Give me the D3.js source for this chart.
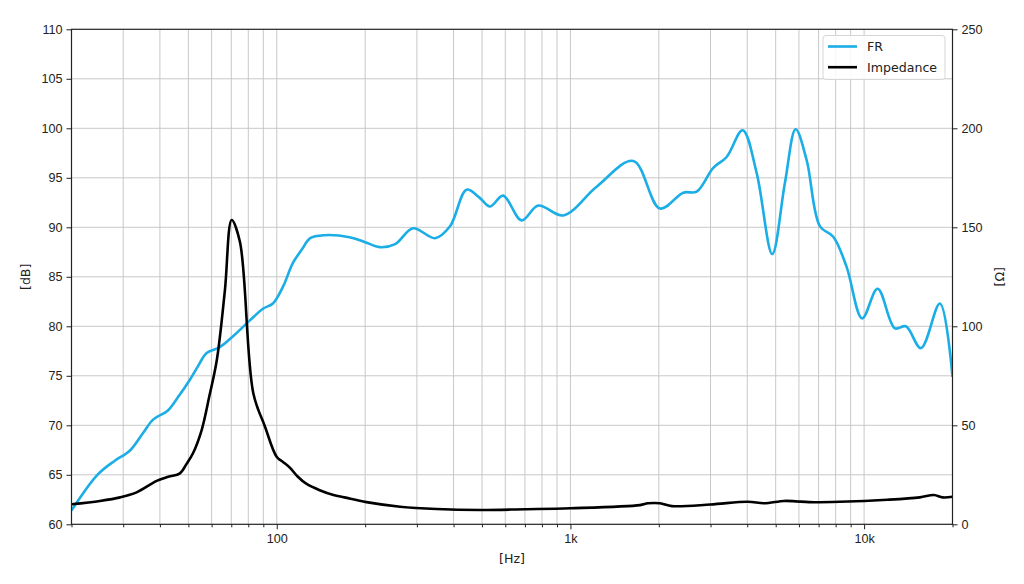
<!DOCTYPE html>
<html>
<head>
<meta charset="utf-8">
<script src="https://cdn.jsdelivr.net/npm/d3@7"></script>
<style>
  body { margin: 0; background: #fff; }
  svg { font-family: "DejaVu Sans", sans-serif; }
  .tick text { font-size: 12.6px; fill: #222; }
  .axis-title { font-size: 12.6px; fill: #222; }
</style>
</head>
<body>
<svg id="chart"></svg>
<script>
// frequency response (Hz -> dB)
const frFreq = [20, 24.5, 28, 31.5, 35, 38, 42.6, 46, 50.6, 54, 57.7, 64, 71, 81, 90, 97, 105, 113.5, 122, 130, 145, 177, 200, 224, 253,
  291, 346, 389, 443, 490, 532, 590, 682, 777, 945, 1228, 1637, 2017, 2422, 2690, 3064, 3404, 3858, 4306, 4866, 5376, 5846,
  6372, 7074, 7852, 8718, 9852, 11118, 12732, 13878, 15616, 18116, 20000];
const frDb = [61.4, 65.0, 66.4, 67.4, 69.2, 70.6, 71.5, 72.8, 74.6, 76.0, 77.3, 77.9, 79.0, 80.6, 81.8, 82.3, 84.0, 86.4, 87.8, 88.9, 89.2, 89.0, 88.5, 88.0, 88.3,
  89.9, 88.9, 90.1, 93.8, 93.0, 92.1, 93.2, 90.7, 92.2, 91.2, 94.1, 96.7, 91.9, 93.5, 93.6, 96.0, 97.1, 99.8, 95.5, 87.3, 94.5, 99.9,
  96.8, 90.1, 89.05, 86.0, 80.8, 83.8, 79.8, 80.0, 77.8, 82.3, 74.9];

// impedance (Hz -> ohm)
const impFreq = [20, 25, 29.3, 33.3, 39, 42.7, 46.8, 49.3, 51.9, 55.5, 59, 62.5, 66.6, 70.2, 74.9, 83.2, 91.2, 99.9, 105, 111, 118, 126, 140, 156, 170, 202, 263,
  350, 492, 700, 1000, 1725, 1837, 2017, 2216, 3000, 4022, 4560, 5335, 5860, 6500, 8272, 12000, 15480, 17285, 18500, 20000];
const impOhm = [10.1, 11.8, 13.6, 16.1, 21.9, 24, 25.7, 30.5, 36, 47.6, 65, 83, 118.3, 153.7, 142.7, 66.2, 49.3, 34.1, 31.5, 28.5, 24, 20.5, 17.2, 14.8, 13.6, 11.2, 8.9,
  7.7, 7.2, 7.6, 8.1, 9.7, 10.6, 10.6, 9.2, 10.0, 11.4, 10.6, 11.8, 11.6, 11.2, 11.4, 12.4, 13.6, 14.8, 13.6, 13.9];

const dbTicks = [60, 65, 70, 75, 80, 85, 90, 95, 100, 105, 110];
const ohmTicks = [0, 50, 100, 150, 200, 250];
const hzMajor = [100, 1000, 10000];
const hzLabels = {100: '100', 1000: '1k', 10000: '10k'};
const seriesNames = ['FR', 'Impedance'];
const seriesColors = ['#1aade6', '#000000'];

const W = 1024, H = 584;
const margin = {top: 29.3, right: 71.5, bottom: 59.7, left: 71.5};
const width = W - margin.left - margin.right;
const height = H - margin.top - margin.bottom;

const svg = d3.select('#chart').attr('width', W).attr('height', H);
const chart = svg.append('g').attr('transform', `translate(${margin.left},${margin.top})`);

const xScale = d3.scaleLog().domain([20, 20000]).range([0, width]);
const yScale = d3.scaleLinear().domain([60, 110]).range([height, 0]);
const y2Scale = d3.scaleLinear().domain([0, 250]).range([height, 0]);

// 1..9 steps of each decade, for the minor grid
const hzAll = [];
for (let dec = 10; dec <= 10000; dec *= 10) {
  for (let m = 1; m <= 9; m++) {
    const v = dec * m;
    if (v >= 20 && v <= 20000) hzAll.push(v);
  }
}

// grid
chart.append('g').selectAll('line')
  .data(hzAll.filter(v => v > 20 && v < 20000))
  .join('line')
  .attr('x1', d => xScale(d)).attr('x2', d => xScale(d))
  .attr('y1', 0).attr('y2', height)
  .attr('stroke', '#c8c8c8').attr('stroke-width', 1);

chart.append('g').selectAll('line')
  .data(dbTicks.slice(1, -1))
  .join('line')
  .attr('x1', 0).attr('x2', width)
  .attr('y1', d => yScale(d)).attr('y2', d => yScale(d))
  .attr('stroke', '#c8c8c8').attr('stroke-width', 1);

// clip
svg.append('defs').append('clipPath').attr('id', 'clip')
  .append('rect').attr('width', width).attr('height', height);

const plot = chart.append('g').attr('clip-path', 'url(#clip)');

const frLine = d3.line()
  .x((d, i) => xScale(frFreq[i]))
  .y(d => yScale(d))
  .curve(d3.curveCatmullRom.alpha(0.5));

const impLine = d3.line()
  .x((d, i) => xScale(impFreq[i]))
  .y(d => y2Scale(d))
  .curve(d3.curveCatmullRom.alpha(0.5));

plot.append('path')
  .attr('d', frLine(frDb))
  .attr('fill', 'none')
  .attr('stroke', seriesColors[0])
  .attr('stroke-width', 2.6);

plot.append('path')
  .attr('d', impLine(impOhm))
  .attr('fill', 'none')
  .attr('stroke', seriesColors[1])
  .attr('stroke-width', 2.6)
  .attr('stroke-linejoin', 'round');

// axes
const xAxis = d3.axisBottom(xScale)
  .tickValues(hzAll)
  .tickSize(0)
  .tickFormat(d => hzLabels[d] || '');
const xAxisG = chart.append('g').attr('transform', `translate(0,${height})`).call(xAxis);
xAxisG.select('.domain').remove();
xAxisG.selectAll('.tick line').remove();
xAxisG.selectAll('.tick').append('line')
  .attr('y2', d => hzMajor.includes(d) ? 5 : 3)
  .attr('stroke', '#222');
xAxisG.selectAll('.tick text').attr('y', 10);

const yAxisG = chart.append('g')
  .call(d3.axisLeft(yScale).tickValues(dbTicks).tickSize(5).tickPadding(4));
yAxisG.select('.domain').remove();
yAxisG.selectAll('.tick line').attr('stroke', '#222');

const y2AxisG = chart.append('g').attr('transform', `translate(${width},0)`)
  .call(d3.axisRight(y2Scale).tickValues(ohmTicks).tickSize(5).tickPadding(4));
y2AxisG.select('.domain').remove();
y2AxisG.selectAll('.tick line').attr('stroke', '#222');

// frame
chart.append('rect')
  .attr('width', width).attr('height', height)
  .attr('fill', 'none').attr('stroke', '#222').attr('stroke-width', 1.2);

// axis titles
svg.append('text').attr('class', 'axis-title')
  .attr('x', margin.left + width / 2).attr('y', 563)
  .style('text-anchor', 'middle').text('[Hz]');

svg.append('text').attr('class', 'axis-title')
  .attr('transform', `translate(30,${margin.top + height / 2}) rotate(-90)`)
  .style('text-anchor', 'middle').text('[dB]');

svg.append('text').attr('class', 'axis-title')
  .attr('transform', `translate(1004,${margin.top + height / 2}) rotate(-90)`)
  .style('text-anchor', 'middle').text('[Ω]');

// legend
const legend = svg.append('g').attr('transform', 'translate(823,35.5)');
legend.append('rect')
  .attr('width', 122).attr('height', 44).attr('rx', 3)
  .attr('fill', 'white').attr('fill-opacity', 0.85)
  .attr('stroke', '#d6d6d6');
seriesNames.forEach((name, i) => {
  const ly = 11 + i * 20.7;
  legend.append('line')
    .attr('x1', 5).attr('x2', 34).attr('y1', ly).attr('y2', ly)
    .attr('stroke', seriesColors[i]).attr('stroke-width', 2.6);
  legend.append('text')
    .attr('x', 44).attr('y', ly + 4.5)
    .style('font-size', '12.6px').style('fill', '#222')
    .text(name);
});
</script>
</body>
</html>
